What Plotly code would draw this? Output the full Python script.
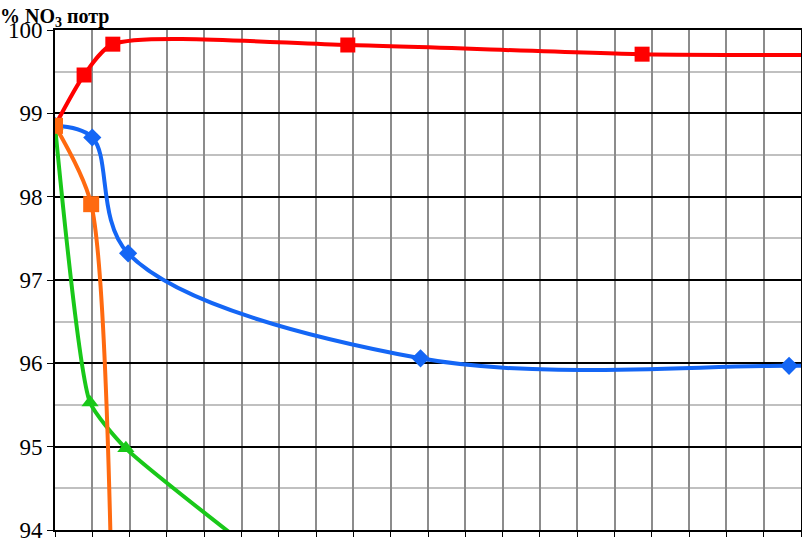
import plotly.graph_objects as go

# значения
x_red = [0, 0.78, 1.55, 7.85, 15.74, 23.6]
y_red = [98.85, 99.46, 99.83, 99.82, 99.71, 99.70]

x_blue = [0, 1.0, 1.96, 9.8, 19.68, 23.6]
y_blue = [98.85, 98.71, 97.32, 96.06, 95.97, 95.99]

x_orange = [0, 0.97, 1.6]
y_orange = [98.85, 97.91, 91.1]

x_green = [0, 0.94, 1.9, 9.8]
y_green = [98.85, 95.53, 94.98, 92.2]

y_ticks = [94, 95, 96, 97, 98, 99, 100]

fig = go.Figure()

def add_series(x, y, color, symbol, size, smooth):
    fig.add_trace(go.Scatter(
        x=x, y=y, mode='lines+markers',
        line=dict(color=color, width=4, shape='spline', smoothing=smooth),
        marker=dict(symbol=symbol, size=size, color=color),
        showlegend=False, cliponaxis=True))

add_series(x_blue, y_blue, '#1466f5', 'diamond', 14, 1.0)
add_series(x_red, y_red, '#ff0000', 'square', 15, 0.7)
add_series(x_green, y_green, '#19c819', 'triangle-up', 15, 0.5)
add_series(x_orange, y_orange, '#ff6a10', 'square', 16, 0.7)

fig.update_layout(
    width=802, height=539,
    margin=dict(l=55, r=1, t=30, b=9),
    plot_bgcolor='white', paper_bgcolor='white',
    font=dict(family='Liberation Serif', color='black'),
    title=dict(text='<b>% NO<sub>3</sub> потр</b>', x=0.0, xanchor='left', xref='container',
               y=0.983, yanchor='top', yref='container',
               font=dict(size=20, family='Liberation Serif')),
)

fig.update_xaxes(range=[0, 20], dtick=1, showticklabels=False, automargin=False,
                 showgrid=True, gridcolor='#8c8c8c', gridwidth=1.5,
                 ticks='outside', ticklen=5, tickcolor='black',
                 showline=True, linecolor='black', linewidth=2, mirror=True,
                 zeroline=False)
fig.update_yaxes(range=[94, 100], tickvals=y_ticks, automargin=False,
                 ticklabeloverflow='allow',
                 tickfont=dict(size=23, family='Liberation Serif'),
                 showgrid=True, gridcolor='black', gridwidth=1.5,
                 minor=dict(dtick=0.5, showgrid=True, gridcolor='#c0c0c0', gridwidth=1.5),
                 ticks='outside', ticklen=6, tickcolor='black',
                 showline=True, linecolor='black', linewidth=2, mirror=True,
                 zeroline=False)

# убрать отступ body, чтобы график лёг ровно в окно
fig.write_html("out.html", config={'displayModeBar': False},
               post_script="document.body.style.margin='0';")
